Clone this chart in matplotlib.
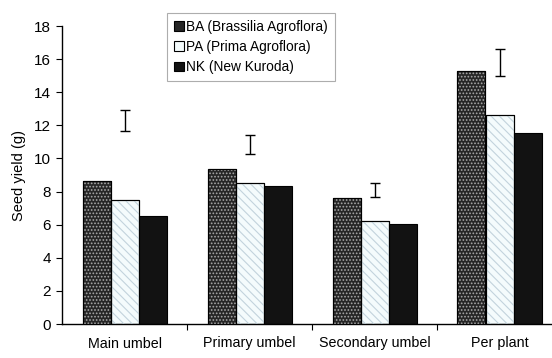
import numpy as np
import matplotlib
matplotlib.use("Agg")
import matplotlib.pyplot as plt
from matplotlib.patches import Patch

plt.rcParams['font.family'] = ['Liberation Sans', 'DejaVu Sans']
plt.rcParams['hatch.linewidth'] = 0.8

# seed yield (g) per cultivar
categories = ["Main umbel", "Primary umbel", "Secondary umbel", "Per plant"]
ba = [8.62, 9.35, 7.6, 15.3]
pa = [7.5, 8.5, 6.24, 12.6]
nk = [6.5, 8.32, 6.04, 11.53]
# LSD bars: centre and half length
lsd_mid = [12.3, 10.85, 8.1, 15.8]
lsd_half = [0.65, 0.58, 0.4, 0.82]

series = [
    ("BA (Brassilia Agroflora)", ba, "#262626", ".....", "#a8a8a8"),
    ("PA (Prima Agroflora)", pa, "#f4fbfc", "\\\\\\\\", "#c2d3dc"),
    ("NK (New Kuroda)", nk, "#121212", None, None),
]

fig = plt.figure(figsize=(5.52, 3.58), dpi=100)
ax = fig.add_axes([62 / 552, 1 - 324 / 358, 1 - 62 / 552, (324 - 26) / 358])

x = np.arange(len(categories))
w = 0.224
handles = []
for i, (name, vals, fc, hatch, hc) in enumerate(series):
    pos = x + (i - 1) * w
    ax.bar(pos, vals, width=w, color=fc, edgecolor="black", linewidth=0.8, zorder=2)
    if hatch:
        ax.bar(pos, vals, width=w, fill=False, hatch=hatch, edgecolor=hc, linewidth=0, zorder=3)
        ax.bar(pos, vals, width=w, fill=False, edgecolor="black", linewidth=0.8, zorder=4)
    handles.append(Patch(facecolor=fc, edgecolor="black", linewidth=0.8, label=name))

ax.errorbar(x, lsd_mid, yerr=lsd_half, fmt="none", ecolor="black",
            elinewidth=1.0, capsize=3.5, capthick=1.0, zorder=5)

ax.set_ylim(0, 18)
ax.set_yticks(range(0, 19, 2))
ax.set_xlim(-0.5, 3.42)
ax.set_xticks(np.arange(0.5, 3.5, 1))
ax.set_xticklabels([])
ax.set_xticks(x, minor=True)
ax.set_xticklabels(categories, minor=True)
ax.tick_params(axis="x", which="minor", length=0, pad=9, labelsize=10.3)
ax.tick_params(axis="x", which="major", length=4, width=0.8, direction="out")
ax.tick_params(axis="y", length=4, width=0.8, direction="out", labelsize=11, pad=4)
for s in ["top", "right"]:
    ax.spines[s].set_visible(False)
for s in ["left", "bottom"]:
    ax.spines[s].set_linewidth(1.0)

ax.set_ylabel("Seed yield (g)", fontsize=10.5, labelpad=6)

leg = fig.legend(handles=handles, loc="upper left",
                 bbox_to_anchor=(167 / 552, 1 - 13 / 358),
                 fontsize=9.9, frameon=True, fancybox=False,
                 handlelength=0.7, handleheight=0.7, handletextpad=0.2,
                 labelspacing=0.45, borderpad=0.5, borderaxespad=0)
leg.get_frame().set_edgecolor("#999999")
leg.get_frame().set_linewidth(0.8)

fig.savefig("out.png", dpi=100)
